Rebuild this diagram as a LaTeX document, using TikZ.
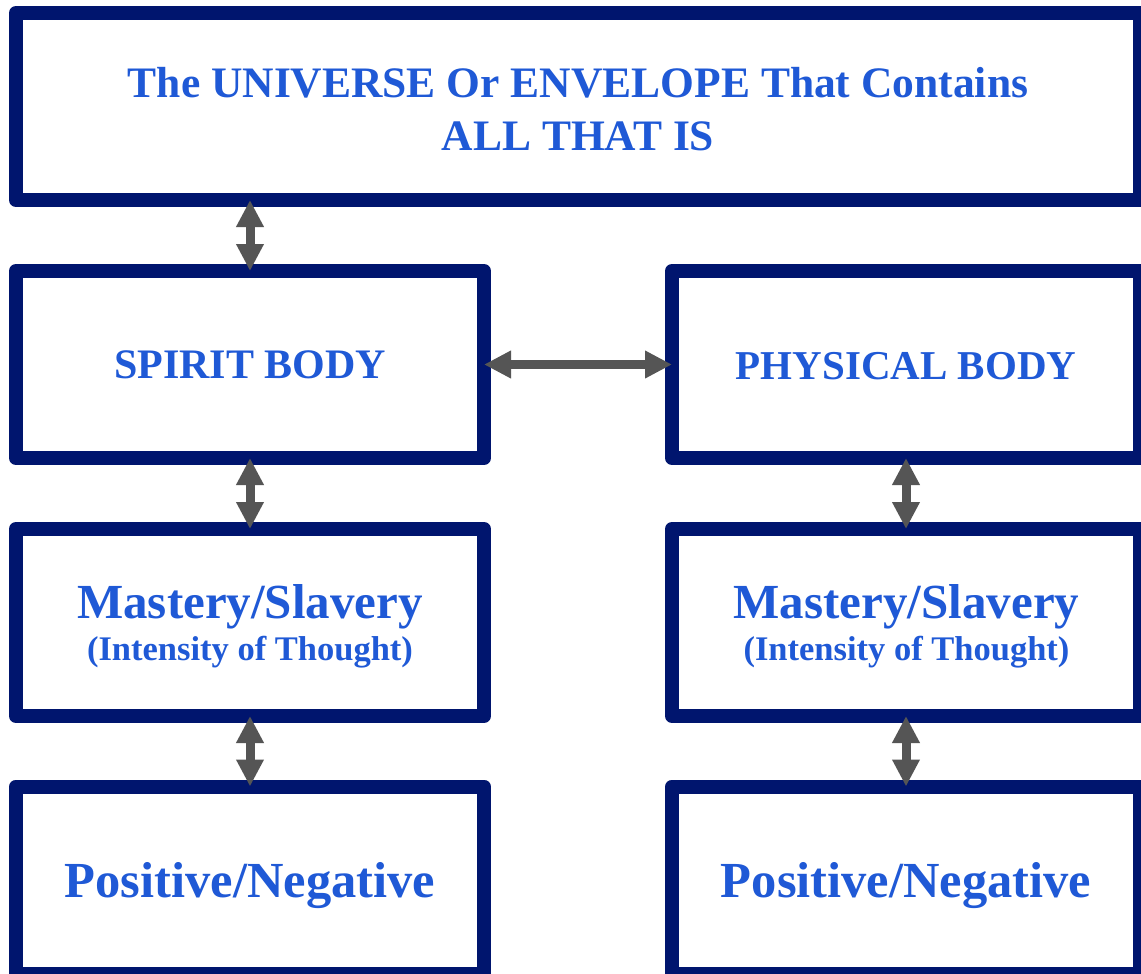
\documentclass[tikz,border=0pt]{standalone}
\usepackage{fontspec}
\setmainfont{Liberation Serif}
\usetikzlibrary{arrows.meta}
\definecolor{navy}{RGB}{0,21,110}
\definecolor{txtblue}{RGB}{31,89,214}
\definecolor{arrowgray}{RGB}{85,85,85}
\tikzset{
  box/.style={draw=navy, line width=14pt, line join=round, outer sep=0pt, inner sep=0pt,
    minimum width=468pt, minimum height=187pt},
  label/.style={text=txtblue, inner sep=0pt, anchor=base},
  biarrow/.style={draw=arrowgray, line width=9pt,
    {Triangle[width=26pt,length=27pt]}-{Triangle[width=26pt,length=27pt]}}
}
\newcommand{\fs}[1]{\bfseries\fontsize{#1}{#1}\selectfont}
\begin{document}
\begin{tikzpicture}[x=1pt,y=-1pt]
\useasboundingbox (0,0) rectangle (1141,974);
\fill[white] (0,0) rectangle (1141,974);
\clip (0,0) rectangle (1141,974);
% boxes
\node[box, minimum width=1124pt] (top) at (578,106.5) {};
\node[box] (spirit) at (250,364.5) {};
\node[box] (physical) at (906,364.5) {};
\node[box] (mastL) at (250,622.5) {};
\node[box] (mastR) at (906,622.5) {};
\node[box] (posL) at (250,880) {};
\node[box] (posR) at (906,880) {};
% texts
\node[label, font=\fs{43.5}] (title1) at (578,98) {The UNIVERSE Or ENVELOPE That Contains};
\node[label, font=\fs{43.5}] (title2) at (578,150) {ALL THAT IS};
\node[label, font=\fs{42}] (spiritT) at (250,378.5) {SPIRIT BODY};
\node[label, font=\fs{41}] (physT) at (906,379) {PHYSICAL BODY};
\node[label, font=\fs{49}] (mastLT) at (250,618.5) {Mastery/Slavery};
\node[label, font=\fs{34.5}] (intLT) at (250,660) {(Intensity of Thought)};
\node[label, font=\fs{49}] (mastRT) at (906.5,618.5) {Mastery/Slavery};
\node[label, font=\fs{34.5}] (intRT) at (906.5,660) {(Intensity of Thought)};
\node[label, font=\fs{50.5}] (posLT) at (250,897) {Positive/Negative};
\node[label, font=\fs{50.5}] (posRT) at (906,897) {Positive/Negative};
% connectors
\draw[biarrow] (spirit.north |- top.south) -- (spirit.north);
\draw[biarrow] (spirit.east) -- (physical.west);
\draw[biarrow] (spirit.south) -- (mastL.north);
\draw[biarrow] (mastL.south) -- (posL.north);
\draw[biarrow] (physical.south) -- (mastR.north);
\draw[biarrow] (mastR.south) -- (posR.north);
\end{tikzpicture}
\end{document}
